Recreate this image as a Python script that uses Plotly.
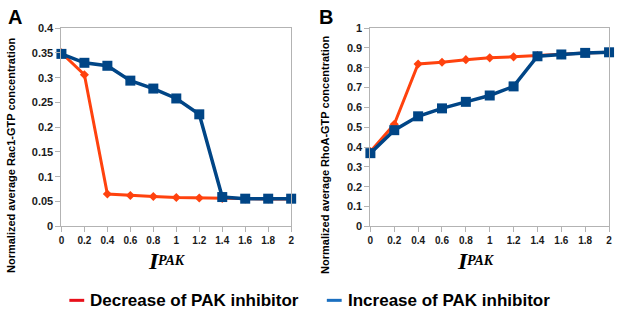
import plotly.graph_objects as go

W, H = 617, 315

# ---- data ----
i_pak = [0, 0.2, 0.4, 0.6, 0.8, 1.0, 1.2, 1.4, 1.6, 1.8, 2.0]
x_ticks = [0, 0.2, 0.4, 0.6, 0.8, 1, 1.2, 1.4, 1.6, 1.8, 2]
x_ticktext = ["0", "0.2", "0.4", "0.6", "0.8", "1", "1.2", "1.4", "1.6", "1.8", "2"]

rac_decrease = [0.350, 0.306, 0.065, 0.062, 0.060, 0.058, 0.057, 0.056, 0.055, 0.055, 0.055]
rac_increase = [0.348, 0.330, 0.324, 0.294, 0.278, 0.258, 0.226, 0.059, 0.0557, 0.0557, 0.0557]
rac_ticks = [0, 0.05, 0.1, 0.15, 0.2, 0.25, 0.3, 0.35, 0.4]
rac_ticktext = ["0", "0.05", "0.1", "0.15", "0.2", "0.25", "0.3", "0.35", "0.4"]

rho_decrease = [0.377, 0.515, 0.819, 0.828, 0.841, 0.850, 0.855, 0.862, 0.866, 0.874, 0.878]
rho_increase = [0.369, 0.485, 0.555, 0.595, 0.628, 0.660, 0.706, 0.858, 0.867, 0.875, 0.878]
rho_ticks = [0, 0.1, 0.2, 0.3, 0.4, 0.5, 0.6, 0.7, 0.8, 0.9, 1]
rho_ticktext = ["0", "0.1", "0.2", "0.3", "0.4", "0.5", "0.6", "0.7", "0.8", "0.9", "1"]

series_names = ["Decrease of PAK inhibitor", "Increase of PAK inhibitor"]

RED = "#ff420e"
BLUE = "#004586"
LEG_RED = "#e8101a"
LEG_BLUE = "#1a6fc0"
GRAY = "#b3b3b3"
FONT = "Liberation Sans, Arial, sans-serif"
SERIF = "Liberation Serif, Times New Roman, serif"


def px(x):
    return x / W


def py(y):
    return 1 - y / H


def bold(labels):
    return ["<b>%s</b>" % t for t in labels]


fig = go.Figure()

for (dec, inc, xa, ya) in [(rac_decrease, rac_increase, "x", "y"),
                           (rho_decrease, rho_increase, "x2", "y2")]:
    fig.add_trace(go.Scatter(
        x=i_pak, y=dec, xaxis=xa, yaxis=ya, mode="lines+markers",
        line=dict(color=RED, width=3),
        marker=dict(symbol="diamond", size=7, color=RED),
        cliponaxis=False, showlegend=False, name=series_names[0]))
    fig.add_trace(go.Scatter(
        x=i_pak, y=inc, xaxis=xa, yaxis=ya, mode="lines+markers",
        line=dict(color=BLUE, width=3.5),
        marker=dict(symbol="square", size=10, color=BLUE),
        cliponaxis=False, showlegend=False, name=series_names[1]))

axis_common = dict(showgrid=False, zeroline=False, showline=True, mirror=True,
                   linecolor=GRAY, linewidth=1, ticks="outside", ticklen=5,
                   tickcolor=GRAY, ticklabeloverflow="allow")
xfont = dict(family=FONT, size=10, color="#1a1a1a")
yfont = dict(family=FONT, size=11, color="#1a1a1a")

ydom = [py(229), py(23)]
fig.update_layout(
    width=W, height=H,
    margin=dict(l=0, r=0, t=0, b=0),
    paper_bgcolor="white", plot_bgcolor="white",
    font=dict(family=FONT),
    xaxis=dict(domain=[px(59), px(291)], range=[0, 2], tickvals=x_ticks,
               ticktext=bold(x_ticktext), anchor="y", tickfont=xfont, **axis_common),
    yaxis=dict(domain=ydom, range=[0, 0.4], tickvals=rac_ticks,
               ticktext=bold(rac_ticktext), anchor="x", tickfont=yfont, **axis_common),
    xaxis2=dict(domain=[px(371), px(612)], range=[0, 2], tickvals=x_ticks,
                ticktext=bold(x_ticktext), anchor="y2", tickfont=xfont, **axis_common),
    yaxis2=dict(domain=ydom, range=[0, 1], tickvals=rho_ticks,
                ticktext=bold(rho_ticktext), anchor="x2", tickfont=yfont, **axis_common),
)

ann = []
# panel letters
for letter, x0 in [("A", 3), ("B", 317)]:
    ann.append(dict(text="<b>%s</b>" % letter, x=px(x0), y=py(-2), xref="paper", yref="paper",
                    xanchor="left", yanchor="top", showarrow=False,
                    font=dict(family=FONT, size=20, color="black")))
# y titles
for txt, xc in [("Normalized average Rac1-GTP concentration", 8),
                ("Normalized average RhoA-GTP concentration", 325)]:
    ann.append(dict(text="<b>%s</b>" % txt, x=px(xc), y=py(155), xref="paper", yref="paper",
                    xanchor="center", yanchor="middle", textangle=-90, showarrow=False,
                    font=dict(family=FONT, size=11, color="black")))
# x titles: I^PAK
for x_i in [146, 458]:
    ann.append(dict(text="<b><i>I</i></b>", x=px(x_i - 2), y=py(281), xref="paper", yref="paper",
                    xanchor="left", yanchor="bottom", showarrow=False,
                    font=dict(family=SERIF, size=24, color="black")))
    ann.append(dict(text="<b><i>PAK</i></b>", x=px(x_i + 9), y=py(274), xref="paper", yref="paper",
                    xanchor="left", yanchor="bottom", showarrow=False,
                    font=dict(family=SERIF, size=14, color="black")))
# legend
shapes = []
for name, col, x0 in [(series_names[0], LEG_RED, 67), (series_names[1], LEG_BLUE, 327)]:
    shapes.append(dict(type="line", xref="paper", yref="paper",
                       x0=px(x0), x1=px(x0 + 15), y0=py(306), y1=py(306),
                       line=dict(color=col, width=3)))
    ann.append(dict(text="<b>%s</b>" % name, x=px(x0 + 19), y=py(306), xref="paper", yref="paper",
                    xanchor="left", yanchor="middle", showarrow=False,
                    font=dict(family=FONT, size=17, color="black")))

fig.update_layout(annotations=ann, shapes=shapes)
fig.write_html("out.html",
               config={"displayModeBar": False},
               post_script="document.body.style.margin='0';document.body.style.overflow='hidden';")
